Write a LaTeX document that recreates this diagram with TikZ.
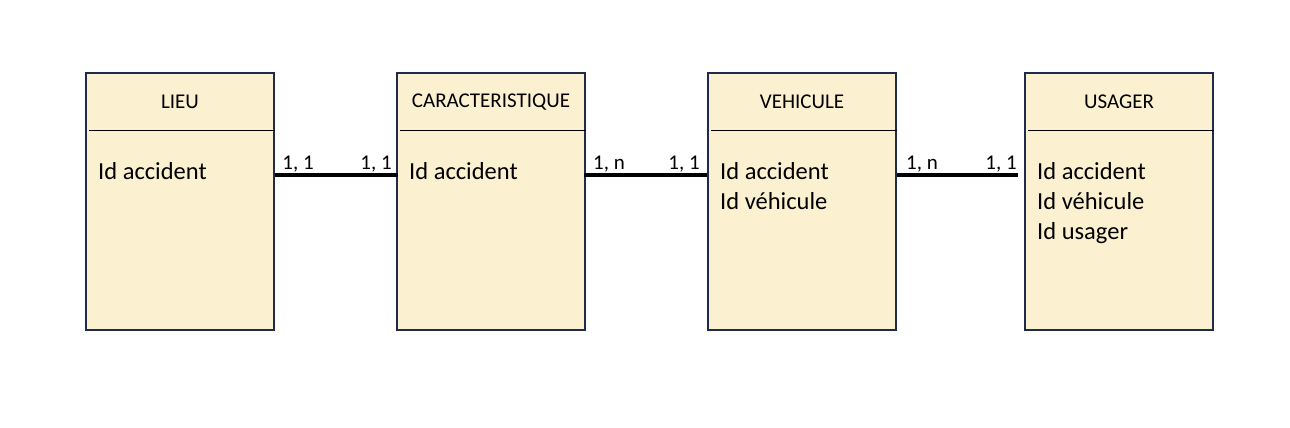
\documentclass[tikz,border=0pt]{standalone}
\usepackage{fontspec}
\setmainfont{Carlito}
\definecolor{boxfill}{HTML}{FBF0D0}
\definecolor{boxline}{HTML}{1F2B4A}
\begin{document}
\begin{tikzpicture}[x=1pt,y=1pt,
  entity/.style={draw=boxline, fill=boxfill, line width=2pt, minimum width=188pt, minimum height=257pt, anchor=north west, inner sep=0pt},
  title/.style={font=\fontsize{21}{25}\selectfont, anchor=center, inner sep=0pt},
  attrs/.style={font=\fontsize{24.5}{30}\selectfont, align=left, anchor=north west, inner sep=0pt},
  card/.style={font=\fontsize{21}{24}\selectfont, anchor=base, inner sep=0pt},
  link/.style={line width=3.5pt}]
\useasboundingbox (0,0) rectangle (1290,-428);
% entities
\node[entity] (lieu) at (85,-72) {};
\node[entity] (carac) at (396,-72) {};
\node[entity] (vehic) at (707,-72) {};
\node[entity] (usager) at (1024,-72) {};
% header separators
\foreach \b in {lieu,carac,vehic,usager}{
  \draw[line width=0.9pt] ([xshift=4pt,yshift=-58pt]\b.north west) -- ([yshift=-58pt]\b.north east);
}
% titles
\node[title] (tlieu) at ([yshift=-30pt]lieu.north) {LIEU};
\node[title] (tcarac) at ([yshift=-30pt]carac.north) {CARACTERISTIQUE};
\node[title] (tvehic) at ([yshift=-30pt]vehic.north) {VEHICULE};
\node[title] (tusager) at ([yshift=-30pt]usager.north) {USAGER};
% attributes
\node[attrs] (alieu) at ([xshift=13pt,yshift=-90pt]lieu.north west) {Id accident};
\node[attrs] (acarac) at ([xshift=13pt,yshift=-90pt]carac.north west) {Id accident};
\node[attrs] (avehic) at ([xshift=13pt,yshift=-90pt]vehic.north west) {Id accident\\Id véhicule};
\node[attrs] (ausager) at ([xshift=13pt,yshift=-90pt]usager.north west) {Id accident\\Id véhicule\\Id usager};
% connectors
\coordinate (c1a) at ([yshift=-103pt]lieu.north east);
\coordinate (c1b) at ([xshift=2pt,yshift=-103pt]carac.north west);
\coordinate (c2a) at ([xshift=-2pt,yshift=-103pt]carac.north east);
\coordinate (c2b) at ([yshift=-103pt]vehic.north west);
\coordinate (c3a) at ([yshift=-103pt]vehic.north east);
\coordinate (c3b) at ([xshift=-6pt,yshift=-103pt]usager.north west);
\draw[link] (c1a) -- (c1b);
\draw[link] (c2a) -- (c2b);
\draw[link] (c3a) -- (c3b);
% cardinalities
\node[card] (k1a) at ([xshift=23pt,yshift=6pt]c1a) {1, 1};
\node[card] (k1b) at ([xshift=-22pt,yshift=6pt]c1b) {1, 1};
\node[card] (k2a) at ([xshift=25pt,yshift=6pt]c2a) {1, n};
\node[card] (k2b) at ([xshift=-23pt,yshift=6pt]c2b) {1, 1};
\node[card] (k3a) at ([xshift=25pt,yshift=6pt]c3a) {1, n};
\node[card] (k3b) at ([xshift=-17pt,yshift=6pt]c3b) {1, 1};
\end{tikzpicture}
\end{document}
